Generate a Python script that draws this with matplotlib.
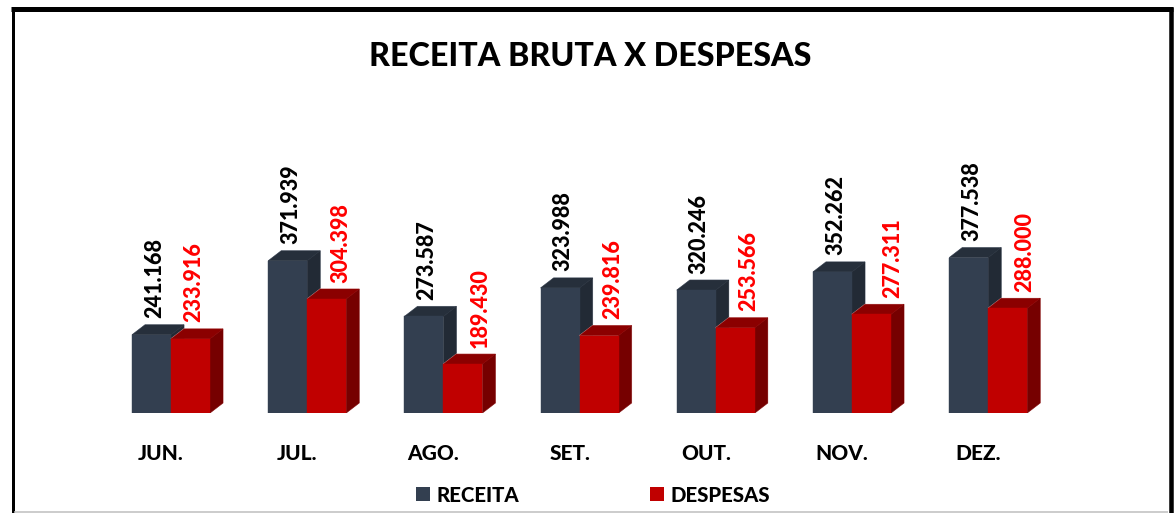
import matplotlib
matplotlib.use("Agg")
import matplotlib.pyplot as plt
from matplotlib.lines import Line2D
from matplotlib.patches import Polygon, Rectangle

months = ["JUN.", "JUL.", "AGO.", "SET.", "OUT.", "NOV.", "DEZ."]
receita = [241168, 371939, 273587, 323988, 320246, 352262, 377538]
despesas = [233916, 304398, 189430, 239816, 253566, 277311, 288000]
receita_labels = ["241.168", "371.939", "273.587", "323.988", "320.246", "352.262", "377.538"]
despesas_labels = ["233.916", "304.398", "189.430", "239.816", "253.566", "277.311", "288.000"]
# horizontal nudges of the red value labels, in pixels
despesas_shift = [3, 14, 17, 14, 13, 21, 17]

W, H = 1176, 513
plt.rcParams["font.family"] = ["Lato", "DejaVu Sans"]
LABEL_WEIGHT = 900
fig = plt.figure(figsize=(W / 100, H / 100), dpi=100, facecolor="white")

PX = 136.2
SLOPE = 0.000566
left, right = 60, 1100
top, base = 100, 413
ax = fig.add_axes([left / W, 1 - base / H, (right - left) / W, (base - top) / H])
ax.set_xlim((left - 171) / PX, (right - 171) / PX)
YMIN = 103000
ax.set_ylim(YMIN, YMIN + (base - top) / SLOPE)
ax.axis("off")

BW = 39 / PX
DX = 13 / PX
DY = 10 / SLOPE


def bar3d(x, v, front, side, topc, edge):
    faces = [
        ([(x + BW, YMIN), (x + BW + DX, YMIN + DY), (x + BW + DX, v + DY), (x + BW, v)], side),
        ([(x, v), (x + DX, v + DY), (x + BW + DX, v + DY), (x + BW, v)], topc),
        ([(x, YMIN), (x + BW, YMIN), (x + BW, v), (x, v)], front),
    ]
    for pts, _ in faces:
        ax.add_patch(Polygon(pts, closed=True, fc="none", ec=edge, lw=0.7, zorder=3))
    for pts, c in faces:
        ax.add_patch(Polygon(pts, closed=True, fc=c, ec=c, lw=0.3, zorder=3))


for i in range(len(months)):
    bar3d(i - BW, receita[i], "#333F50", "#222A35", "#262F3B", "#B9C0CC")
    bar3d(i, despesas[i], "#C00000", "#760000", "#8B0000", "#E8B8B8")
    ax.annotate(receita_labels[i], (i - BW / 2, receita[i]), xytext=(3, 16.5), textcoords="offset pixels",
                rotation=90, ha="center", va="bottom", fontsize=15.5, fontweight=LABEL_WEIGHT,
                color="black", zorder=5)
    ax.annotate(despesas_labels[i], (i + BW / 2, despesas[i]), xytext=(despesas_shift[i], 16.5),
                textcoords="offset pixels", rotation=90, ha="center", va="bottom", fontsize=15.5,
                fontweight=LABEL_WEIGHT, color="#FF0000", zorder=5)
    ax.annotate(months[i], (i, YMIN), xytext=(-10, -40.5), textcoords="offset pixels",
                ha="center", va="center", fontsize=15, fontweight=LABEL_WEIGHT, color="black",
                annotation_clip=False)

fig.text(590 / W, 1 - 56 / H, "RECEITA BRUTA X DESPESAS", ha="center", va="center",
         fontsize=23.2, fontweight=LABEL_WEIGHT, color="black")

handles = [Rectangle((0, 0), 1, 1, fc="#333F50"), Rectangle((0, 0), 1, 1, fc="#C00000")]
fig.legend(handles, ["RECEITA", "DESPESAS"], ncol=2, frameon=False,
           prop={"family": "Lato", "weight": LABEL_WEIGHT, "size": 14.7},
           loc="center", bbox_to_anchor=(593 / W, 1 - 495 / H), handlelength=0.686, handleheight=0.686,
           handletextpad=0.3, columnspacing=6.4, borderpad=0)


def frame_line(x0, y0, x1, y1, color, px):
    fig.add_artist(Line2D([x0 / W, x1 / W], [1 - y0 / H, 1 - y1 / H], transform=fig.transFigure,
                          color=color, lw=px * 0.72, solid_capstyle="butt", zorder=10))


frame_line(11, 9, 1173, 9, "black", 5)
frame_line(1170.5, 7, 1170.5, 513, "black", 4.5)
frame_line(12.5, 7, 12.5, 513, "black", 3)
frame_line(14, 512, 1168, 512, "#BDBDBD", 1.5)

fig.savefig("out.png", dpi=100, facecolor="white")
